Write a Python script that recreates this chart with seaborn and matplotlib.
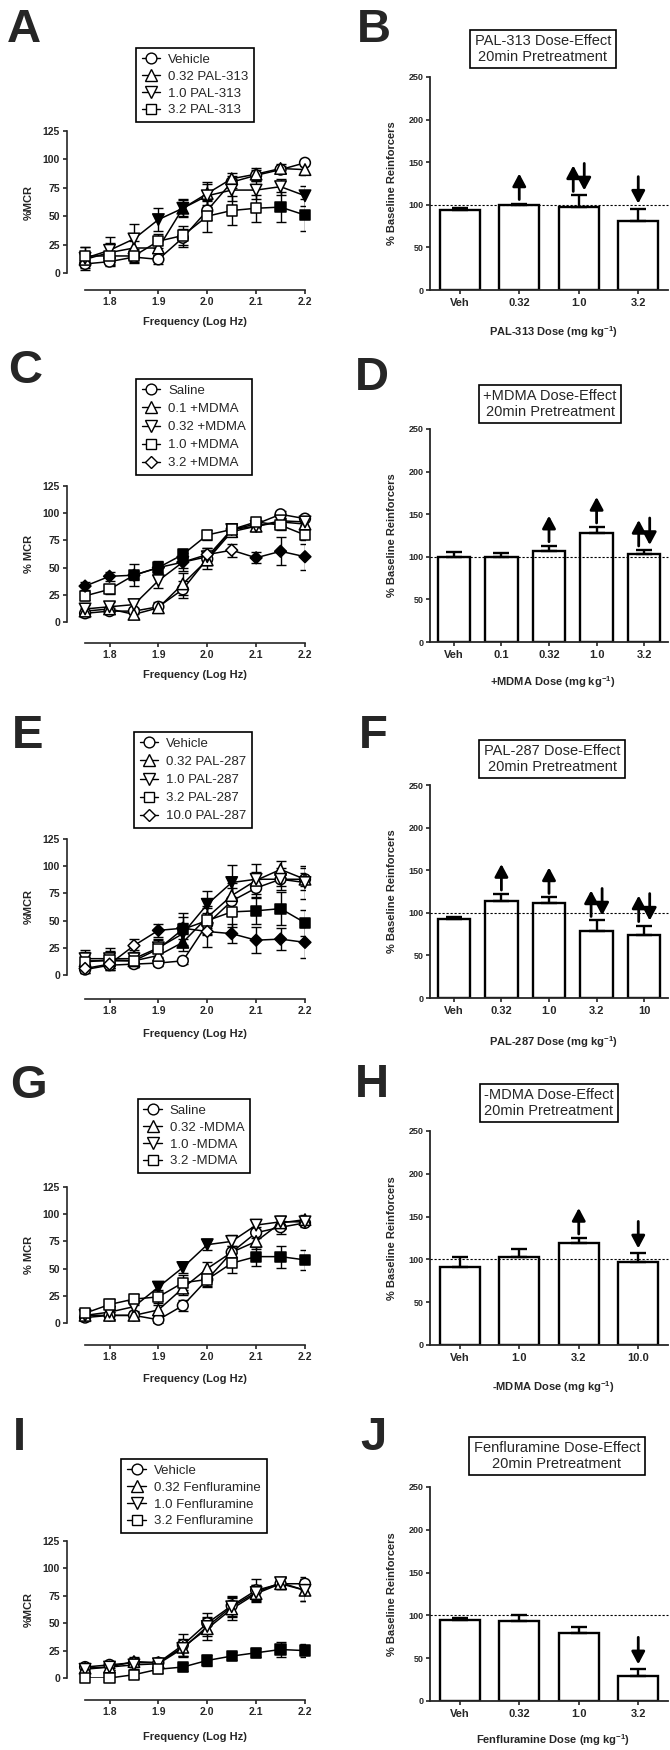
import matplotlib
matplotlib.use('Agg')
import matplotlib.pyplot as plt
import matplotlib.transforms as mtransforms
from matplotlib.lines import Line2D
import numpy as np
import pandas as pd
import seaborn as sns

sns.set_style('ticks')
plt.rcParams['font.family'] = ['Liberation Sans', 'DejaVu Sans']
plt.rcParams['mathtext.default'] = 'regular'

W, H = 670, 1750

# ---- shared x values of the frequency-rate curves ----
freq = [1.75, 1.80, 1.85, 1.90, 1.95, 2.00, 2.05, 2.10, 2.15, 2.20]
freq_ticks = [1.8, 1.9, 2.0, 2.1, 2.2]

# ---- panel A: PAL-313 ----
a_labels = ['Vehicle', '0.32 PAL-313', '1.0 PAL-313', '3.2 PAL-313']
a_markers = ['o', '^', 'v', 's']
a_mean = [[8, 10, 14, 12, 31, 55, 80, 86, 91, 97],
          [12, 18, 22, 22, 57, 70, 83, 87, 92, 91],
          [13, 20, 30, 47, 57, 68, 73, 73, 76, 68],
          [15, 15, 15, 28, 33, 50, 55, 57, 58, 51]]
a_sem = [[4, 4, 4, 4, 8, 8, 5, 5, 3, 3],
         [6, 8, 6, 6, 7, 10, 5, 5, 4, 5],
         [10, 12, 13, 10, 8, 10, 10, 8, 7, 9],
         [8, 8, 6, 6, 8, 14, 13, 12, 13, 14]]
a_filled = [[], [4], [3, 4, 9], [8, 9]]

# ---- panel B ----
b_doses = ['Veh', '0.32', '1.0', '3.2']
b_pct = [94, 100, 98, 81]
b_err = [2.5, 1.5, 13, 14.5]
b_arrows = ['', 'up', 'both', 'down']

# ---- panel C: +MDMA ----
c_labels = ['Saline', '0.1 +MDMA', '0.32 +MDMA', '1.0 +MDMA', '3.2 +MDMA']
c_markers = ['o', '^', 'v', 's', 'D']
c_mean = [[8, 10, 10, 14, 30, 58, 85, 90, 99, 95],
          [10, 12, 7, 13, 35, 57, 83, 88, 92, 90],
          [12, 14, 16, 38, 55, 60, 85, 88, 93, 92],
          [24, 30, 43, 50, 62, 80, 85, 92, 89, 80],
          [33, 42, 43, 50, 55, 62, 66, 59, 65, 60]]
c_sem = [[3, 3, 3, 4, 8, 6, 4, 4, 3, 3],
         [3, 3, 3, 4, 10, 8, 4, 4, 3, 3],
         [4, 4, 5, 7, 8, 8, 4, 4, 3, 3],
         [4, 4, 10, 6, 5, 5, 4, 4, 4, 5],
         [4, 4, 4, 5, 5, 6, 6, 5, 13, 12]]
c_filled = [[], [], [4], [2, 3, 4], [0, 1, 2, 3, 4, 7, 8, 9]]

# ---- panel D ----
d_doses = ['Veh', '0.1', '0.32', '1.0', '3.2']
d_pct = [100, 100, 107, 128, 103]
d_err = [6, 5, 6, 7, 5]
d_arrows = ['', '', 'up', 'up', 'both']

# ---- panel E: PAL-287 ----
e_labels = ['Vehicle', '0.32 PAL-287', '1.0 PAL-287', '3.2 PAL-287', '10.0 PAL-287']
e_markers = ['o', '^', 'v', 's', 'D']
e_mean = [[5, 9, 10, 11, 13, 47, 68, 80, 88, 88],
          [13, 13, 13, 18, 30, 53, 73, 87, 97, 88],
          [15, 15, 15, 25, 38, 65, 85, 88, 88, 85],
          [12, 14, 13, 24, 42, 50, 58, 59, 61, 48],
          [6, 10, 27, 41, 43, 40, 38, 32, 33, 30]]
e_sem = [[3, 3, 3, 3, 3, 10, 12, 8, 6, 6],
         [8, 8, 6, 6, 8, 10, 12, 8, 8, 10],
         [8, 10, 8, 8, 10, 12, 16, 14, 10, 15],
         [6, 8, 6, 8, 15, 12, 14, 12, 15, 12],
         [4, 4, 6, 6, 10, 14, 9, 12, 10, 14]]
e_filled = [[], [4], [4, 5, 6], [4, 7, 8, 9], [3, 4, 6, 7, 8, 9]]

# ---- panel F ----
f_doses = ['Veh', '0.32', '1.0', '3.2', '10']
f_pct = [92.5, 114, 112, 79, 74]
f_err = [2, 8, 6, 12, 11]
f_arrows = ['', 'up', 'up', 'both', 'both']

# ---- panel G: -MDMA ----
g_labels = ['Saline', '0.32 -MDMA', '1.0 -MDMA', '3.2 -MDMA']
g_markers = ['o', '^', 'v', 's']
g_mean = [[5, 7, 7, 3, 16, 40, 65, 83, 88, 92],
          [7, 7, 7, 12, 32, 50, 65, 75, 92, 95],
          [7, 10, 15, 33, 51, 72, 75, 90, 93, 93],
          [9, 17, 22, 24, 37, 40, 55, 61, 61, 58]]
g_sem = [[3, 3, 3, 3, 5, 6, 6, 5, 6, 4],
         [3, 3, 3, 5, 6, 6, 6, 7, 6, 4],
         [3, 3, 4, 5, 5, 5, 6, 5, 5, 4],
         [4, 5, 5, 6, 7, 7, 9, 9, 10, 9]]
g_filled = [[], [], [3, 4, 5], [7, 8, 9]]

# ---- panel H ----
h_doses = ['Veh', '1.0', '3.2', '10.0']
h_pct = [91.5, 102.5, 119, 97]
h_err = [11.5, 9.5, 6, 10]
h_arrows = ['', '', 'up', 'down']

# ---- panel I: Fenfluramine ----
i_labels = ['Vehicle', '0.32 Fenfluramine', '1.0 Fenfluramine', '3.2 Fenfluramine']
i_markers = ['o', '^', 'v', 's']
i_mean = [[10, 12, 14, 14, 30, 50, 66, 80, 86, 86],
          [9, 10, 15, 14, 28, 45, 63, 77, 86, 80],
          [8, 10, 12, 13, 27, 47, 65, 78, 87, 80],
          [0, 0, 3, 8, 10, 16, 20, 23, 26, 25]]
i_sem = [[3, 3, 4, 4, 10, 9, 9, 10, 5, 6],
         [3, 3, 4, 4, 8, 10, 10, 8, 5, 10],
         [3, 3, 4, 4, 8, 9, 9, 7, 5, 10],
         [2, 2, 3, 3, 4, 5, 4, 4, 7, 6]]
i_filled = [[], [], [], [4, 5, 6, 7, 8, 9]]

# ---- panel J ----
j_doses = ['Veh', '0.32', '1.0', '3.2']
j_pct = [95, 94, 80, 29]
j_err = [2, 6, 7, 8]
j_arrows = ['', '', '', 'down']

marker_area = {'o': 60, '^': 68, 'v': 68, 's': 54, 'D': 36}

fig = plt.figure(figsize=(W / 100, H / 100), dpi=100)
fig.patch.set_facecolor('white')


def px_axes(left, top, right, bottom):
    """axes from pixel box (top-left origin)"""
    return fig.add_axes([left / W, 1 - bottom / H, (right - left) / W, (bottom - top) / H])


def bold_ticks(ax):
    for lab in ax.get_xticklabels() + ax.get_yticklabels():
        lab.set_fontweight('bold')


def line_panel(top, bottom, spine_off, xlab_top, labels, markers, means, sems, filled,
               ylabel, leg_center, leg_spacing=0.35):
    ax = px_axes(67, top, 305, bottom)
    rows = []
    for lab, vals in zip(labels, means):
        rows += [{'freq': f, 'mcr': v, 'group': lab} for f, v in zip(freq, vals)]
    df = pd.DataFrame(rows)
    sns.lineplot(data=df, x='freq', y='mcr', hue='group', hue_order=labels,
                 palette=['black'] * len(labels), linewidth=1.1, legend=False,
                 errorbar=None, ax=ax)
    for vals, err, mk, fl in zip(means, sems, markers, filled):
        ax.errorbar(freq, vals, yerr=err, fmt='none', ecolor='black', elinewidth=1.0,
                    capsize=3.5, capthick=1.0, zorder=2)
        faces = ['black' if k in fl else 'white' for k in range(len(freq))]
        ax.scatter(freq, vals, marker=mk, s=marker_area[mk], c=faces, edgecolors='black',
                   linewidths=1.1, zorder=3, clip_on=False)

    ax.set_xlim(1.713, 2.2)
    ax.set_ylim(0, 125)
    ax.set_xticks(freq_ticks)
    ax.set_xticklabels(['%.1f' % t for t in freq_ticks])
    ax.set_yticks([0, 25, 50, 75, 100, 125])
    sns.despine(ax=ax)
    ax.spines['bottom'].set_position(('outward', spine_off * 0.72))
    ax.spines['bottom'].set_bounds(1.75, 2.2)
    for sp in ['left', 'bottom']:
        ax.spines[sp].set_linewidth(1.2)
    ax.tick_params(axis='both', labelsize=7.5, length=3, width=1.2, pad=2)
    bold_ticks(ax)

    ax.set_xlabel('Frequency (Log Hz)', fontsize=8, fontweight='bold')
    ax.xaxis.set_label_coords(195 / W, 1 - xlab_top / H, transform=fig.transFigure)
    ax.set_ylabel(ylabel, fontsize=8, fontweight='bold')
    ax.yaxis.set_label_coords(34 / W, 1 - (top + bottom) / 2 / H, transform=fig.transFigure)

    handles = [Line2D([], [], color='black', lw=1.0, marker=mk, ms=np.sqrt(marker_area[mk]),
                      mfc='white', mec='black', mew=1.0) for mk in markers]
    leg = ax.legend(handles, labels, loc='center',
                    bbox_to_anchor=(leg_center[0] / W, 1 - leg_center[1] / H),
                    bbox_transform=fig.transFigure, fontsize=9.5, frameon=True,
                    fancybox=False, edgecolor='black', framealpha=1, handlelength=1.4,
                    handletextpad=0.6, labelspacing=leg_spacing, borderpad=0.45)
    leg.get_frame().set_linewidth(1.2)
    return ax


def draw_arrow(ax, x, y, dx, kind):
    def at(dy):
        return ax.transData + mtransforms.ScaledTranslation(dx / 100, dy / 100, fig.dpi_scale_trans)
    if kind == 'up':
        tail, tip = 4, 30
    else:
        tail, tip = 32, 5
    ax.annotate('', xy=(x, y), xycoords=at(tip), xytext=(x, y), textcoords=at(tail),
                arrowprops=dict(arrowstyle='-|>,head_length=0.75,head_width=0.4',
                                mutation_scale=10, color='black', lw=2.0,
                                shrinkA=0, shrinkB=0))


def bar_panel(top, bottom, xlab_top, doses, pct, err, arrows, xlabel, title, title_center):
    ax = px_axes(430, top, 668, bottom)
    df = pd.DataFrame({'dose': doses, 'pct': pct})
    sns.barplot(data=df, x='dose', y='pct', order=doses, color='white', saturation=1,
                edgecolor='black', linewidth=1.7, width=0.68, errorbar=None, ax=ax)
    xs = np.arange(len(doses))
    ax.errorbar(xs, pct, yerr=[np.zeros(len(pct)), err], fmt='none', ecolor='black',
                elinewidth=1.7, capsize=5.5, capthick=1.7, zorder=3)
    ax.axhline(100, color='black', lw=0.8, ls=(0, (2, 1.6)), zorder=4, clip_on=False)

    for x, v, e, kind in zip(xs, pct, err, arrows):
        if kind == 'both':
            draw_arrow(ax, x, v + e, -5.5, 'up')
            draw_arrow(ax, x, v + e, 5.5, 'down')
        elif kind:
            draw_arrow(ax, x, v + e, 0, kind)

    ax.set_xlim(-0.5, len(doses) - 0.5)
    ax.set_ylim(0, 250)
    ax.set_yticks(range(0, 251, 50))
    sns.despine(ax=ax)
    for sp in ['left', 'bottom']:
        ax.spines[sp].set_linewidth(1.3)
    ax.tick_params(axis='x', labelsize=8, length=3, width=1.2, pad=3)
    ax.tick_params(axis='y', labelsize=6.5, length=3, width=1.2, pad=1.5)
    bold_ticks(ax)

    ax.set_xlabel(xlabel, fontsize=8, fontweight='bold')
    ax.xaxis.set_label_coords(553 / W, 1 - xlab_top / H, transform=fig.transFigure)
    ax.set_ylabel('% Baseline Reinforcers', fontsize=8, fontweight='bold')
    ax.yaxis.set_label_coords(397 / W, 1 - (top + bottom) / 2 / H, transform=fig.transFigure)

    fig.text(title_center[0] / W, 1 - title_center[1] / H, title, ha='center', va='center',
             fontsize=10.5, linespacing=1.15,
             bbox=dict(boxstyle='square,pad=0.3', facecolor='white', edgecolor='black',
                       linewidth=1.2))
    return ax


line_panel(131, 273, 17, 317, a_labels, a_markers, a_mean, a_sem, a_filled, '%MCR', (195, 85))
bar_panel(77, 290, 324, b_doses, b_pct, b_err, b_arrows,
          'PAL-313 Dose (mg kg$^{-1}$)', 'PAL-313 Dose-Effect\n20min Pretreatment', (543, 49))

line_panel(486, 622, 21, 670, c_labels, c_markers, c_mean, c_sem, c_filled, '% MCR', (194, 427),
           leg_spacing=0.45)
bar_panel(429, 642, 674, d_doses, d_pct, d_err, d_arrows,
          '+MDMA Dose (mg kg$^{-1}$)', '+MDMA Dose-Effect\n20min Pretreatment', (550, 404))

line_panel(839, 975, 24, 1029, e_labels, e_markers, e_mean, e_sem, e_filled, '%MCR', (193, 780),
           leg_spacing=0.45)
bar_panel(785, 998, 1034, f_doses, f_pct, f_err, f_arrows,
          'PAL-287 Dose (mg kg$^{-1}$)', 'PAL-287 Dose-Effect\n20min Pretreatment', (552, 759))

line_panel(1187, 1323, 22, 1374, g_labels, g_markers, g_mean, g_sem, g_filled, '% MCR', (194, 1136))
bar_panel(1131, 1345, 1379, h_doses, h_pct, h_err, h_arrows,
          '-MDMA Dose (mg kg$^{-1}$)', '-MDMA Dose-Effect\n20min Pretreatment', (549, 1103))

line_panel(1541, 1678, 22, 1732, i_labels, i_markers, i_mean, i_sem, i_filled, '%MCR', (194, 1496))
bar_panel(1487, 1701, 1732, j_doses, j_pct, j_err, j_arrows,
          'Fenfluramine Dose (mg kg$^{-1}$)', 'Fenfluramine Dose-Effect\n20min Pretreatment',
          (557, 1456))

# panel letters (x centre, baseline in px)
letters = ['A', 'B', 'C', 'D', 'E', 'F', 'G', 'H', 'I', 'J']
letter_x = [24, 374, 25, 372, 28, 373, 28, 372, 19, 373]
letter_y = [42, 42, 383, 390, 748, 748, 1098, 1097, 1450, 1450]
for t, lx, ly in zip(letters, letter_x, letter_y):
    fig.text(lx / W, 1 - ly / H, t, fontsize=34, fontweight='bold', ha='center', va='baseline')

fig.savefig('out.png', dpi=100, facecolor='white')
plt.close(fig)
